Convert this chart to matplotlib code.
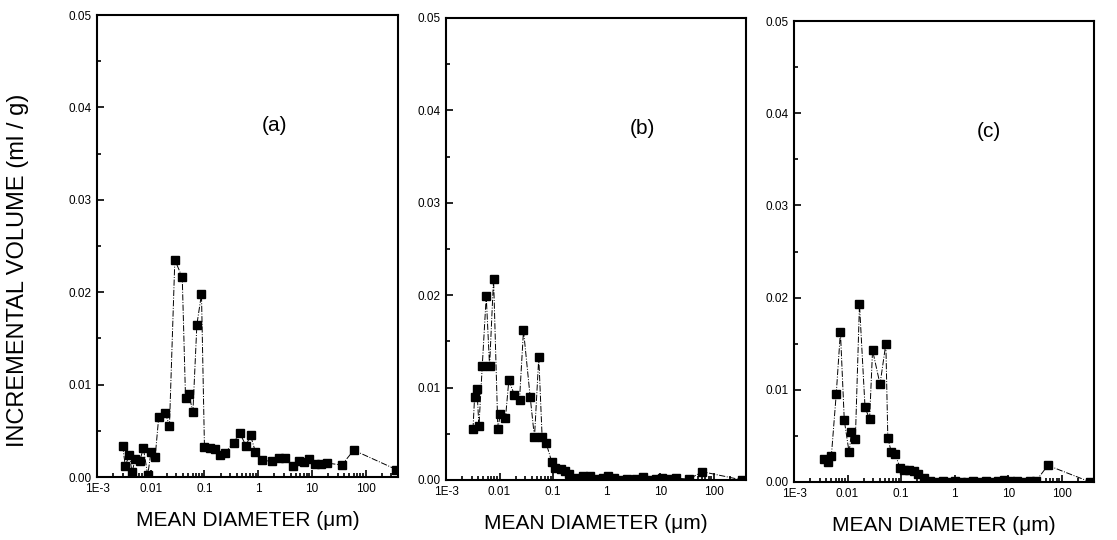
import matplotlib
matplotlib.use("Agg")
import matplotlib.pyplot as plt
from matplotlib.ticker import FixedLocator, FixedFormatter, LogLocator, MultipleLocator, NullFormatter

plt.rcParams["font.family"] = ["Liberation Sans", "DejaVu Sans"]

# panel (a)
diam_a = [0.0030, 0.00336, 0.0040, 0.0045, 0.0051, 0.0062, 0.0073, 0.0088, 0.0101, 0.0121,
          0.0141, 0.0188, 0.0223, 0.0281, 0.0386, 0.0444, 0.0513, 0.0609, 0.0723, 0.088,
          0.100, 0.125, 0.155, 0.192, 0.24, 0.35, 0.45, 0.59, 0.72, 0.89,
          1.19, 1.78, 2.47, 3.2, 4.4, 5.7, 7.1, 8.9, 11.4, 14.8,
          19.4, 36, 60, 375]
vol_a = [0.0034, 0.0012, 0.0024, 0.0005, 0.0019, 0.0017, 0.0031, 0.0002, 0.0027, 0.0022,
         0.0065, 0.0069, 0.0055, 0.0235, 0.0216, 0.0086, 0.0090, 0.0070, 0.0165, 0.0198,
         0.0032, 0.0031, 0.0030, 0.0024, 0.0026, 0.0037, 0.0048, 0.0034, 0.0045, 0.0027,
         0.0018, 0.0017, 0.0021, 0.0021, 0.0012, 0.0017, 0.0016, 0.0019, 0.0014, 0.0014,
         0.0015, 0.0013, 0.0029, 0.0008]

# panel (b)
diam_b = [0.00319, 0.00342, 0.00378, 0.00412, 0.00475, 0.00564, 0.00651, 0.00773, 0.0093, 0.0103,
          0.0129, 0.0149, 0.0190, 0.0236, 0.028, 0.0373, 0.0449, 0.054, 0.0624, 0.074,
          0.094, 0.11, 0.141, 0.17, 0.2, 0.27, 0.36, 0.48, 0.63, 0.85,
          1.05, 1.39, 1.85, 2.45, 3.5, 4.7, 6.2, 8.3, 11, 14.7,
          19.5, 34.5, 61, 340]
vol_b = [0.0055, 0.0090, 0.0099, 0.0058, 0.0123, 0.0199, 0.0123, 0.0218, 0.0055, 0.0071,
         0.0067, 0.0108, 0.0092, 0.0087, 0.0162, 0.0090, 0.0046, 0.0133, 0.0046, 0.0040,
         0.0020, 0.0013, 0.0012, 0.0010, 0.0006, 0.0002, 0.0004, 0.0004, 0.0001, 0.0002,
         0.0004, 0.0002, 0.0000, 0.0001, 0.0001, 0.0003, 0.0000, 0.0001, 0.0002, 0.0001,
         0.0002, 0.0001, 0.0009, 0.0000]

# panel (c)
diam_c = [0.00361, 0.00427, 0.00498, 0.00614, 0.00736, 0.00869, 0.0107, 0.0118, 0.0140, 0.0167,
          0.0212, 0.0258, 0.0293, 0.0404, 0.0519, 0.0565, 0.0658, 0.0778, 0.096, 0.113,
          0.142, 0.172, 0.207, 0.273, 0.35, 0.45, 0.6, 0.8, 1.0, 1.3,
          1.7, 2.2, 2.9, 3.8, 5.0, 6.5, 8.5, 11, 14.5, 19,
          25, 33, 55, 340]
vol_c = [0.0025, 0.0022, 0.0028, 0.0095, 0.0163, 0.0067, 0.0032, 0.0054, 0.0047, 0.0193,
         0.0081, 0.0068, 0.0143, 0.0106, 0.0150, 0.0048, 0.0032, 0.0030, 0.0015, 0.0013,
         0.0013, 0.0012, 0.0009, 0.0004, 0.0001, 0.0000, 0.0001, 0.0000, 0.0001, 0.0000,
         0.0000, 0.0001, 0.0000, 0.0001, 0.0000, 0.0001, 0.0002, 0.0001, 0.0001, 0.0000,
         0.0001, 0.0001, 0.0018, 0.0000]

panel_labels = ["(a)", "(b)", "(c)"]
x_ticks = [1e-3, 1e-2, 1e-1, 1, 10, 100]
x_tick_labels = ["1E-3", "0.01", "0.1", "1", "10", "100"]
y_ticks = [0.00, 0.01, 0.02, 0.03, 0.04, 0.05]
y_tick_labels = ["0.00", "0.01", "0.02", "0.03", "0.04", "0.05"]

W, H = 1117, 540
fig = plt.figure(figsize=(W / 100, H / 100), dpi=100)

# axes boxes in pixels: left, right, top, bottom
boxes = [(97, 398, 15, 477), (446, 746, 18, 480), (794, 1094, 21, 482)]
label_x = [0.59, 0.655, 0.65]
series = [(diam_a, vol_a), (diam_b, vol_b), (diam_c, vol_c)]

for (l, r, t, b), (xs, ys), name, lx in zip(boxes, series, panel_labels, label_x):
    ax = fig.add_axes([l / W, (H - b) / H, (r - l) / W, (b - t) / H])
    ax.plot(xs, ys, color="black", lw=0.7, ls="-.", marker="s", ms=5.5,
            mfc="black", mec="black")
    ax.set_xscale("log")
    ax.set_xlim(1e-3, 400)
    ax.set_ylim(0, 0.05)
    ax.xaxis.set_major_locator(FixedLocator(x_ticks))
    ax.xaxis.set_major_formatter(FixedFormatter(x_tick_labels))
    ax.xaxis.set_minor_locator(LogLocator(base=10, subs=range(2, 10), numticks=20))
    ax.xaxis.set_minor_formatter(NullFormatter())
    ax.yaxis.set_major_locator(FixedLocator(y_ticks))
    ax.yaxis.set_major_formatter(FixedFormatter(y_tick_labels))
    ax.yaxis.set_minor_locator(MultipleLocator(0.005))
    ax.tick_params(which="both", direction="in", top=False, right=False,
                   labelsize=8.5, width=1.2)
    ax.tick_params(which="major", length=5, pad=4)
    ax.tick_params(which="minor", length=3)
    for sp in ax.spines.values():
        sp.set_linewidth(1.5)
    ax.text(lx, 0.76, name, transform=ax.transAxes, fontsize=15,
            ha="center", va="center")
    ax.set_xlabel("MEAN DIAMETER (\u03bcm)", fontsize=15, labelpad=12)

fig.text(18 / W, 0.5, "INCREMENTAL VOLUME (ml / g)", rotation=90,
         fontsize=17, ha="center", va="center")

fig.savefig("out.png", dpi=100)
